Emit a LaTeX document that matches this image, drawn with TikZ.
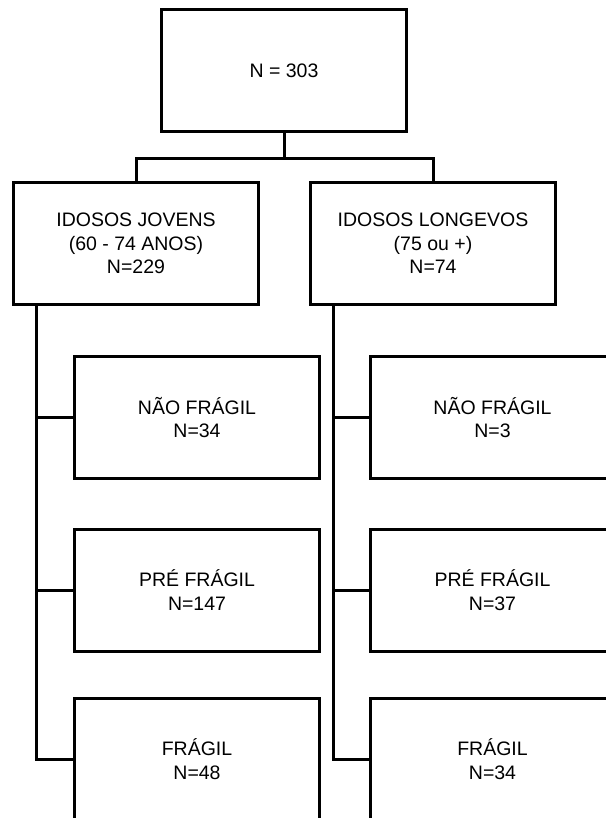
\documentclass[tikz,border=0pt]{standalone}
\usepackage{fontspec}
\setmainfont{Liberation Sans}
\begin{document}
\begin{tikzpicture}[x=1pt,y=-1pt,
  box/.style={draw=black, line width=3pt, rectangle, minimum width=245pt, minimum height=122pt, inner sep=0pt, align=center, font=\fontsize{19.5}{23.5}\selectfont},
  conn/.style={draw=black, line width=3pt}]
\useasboundingbox (0,0) rectangle (605,818);
\node[box] (top) at (284,71) {N = 303};
\node[box] (L) at (136,243.5) {IDOSOS JOVENS\\(60 - 74 ANOS)\\N=229};
\node[box] (R) at (433,243.5) {IDOSOS LONGEVOS\\(75 ou +)\\N=74};
\node[box] (LN) at (197,417.5) {NÃO FRÁGIL\\N=34};
\node[box] (LP) at (197,590) {PRÉ FRÁGIL\\N=147};
\node[box] (LF) at (197,759) {FRÁGIL\\N=48};
\node[box] (RN) at (492.5,417.5) {NÃO FRÁGIL\\N=3};
\node[box] (RP) at (492.5,590) {PRÉ FRÁGIL\\N=37};
\node[box] (RF) at (492.5,759) {FRÁGIL\\N=34};
\coordinate (j) at ([yshift=-25pt]top.south);
\draw[conn] (top.south) -- (j);
\draw[conn] (L.north) |- (j) -| (R.north);
\coordinate (lv) at ([xshift=24pt]L.south west);
\coordinate (rv) at ([xshift=24pt]R.south west);
\draw[conn] (lv) |- (LF.west);
\draw[conn] (LN.west) -- (LN.west -| lv);
\draw[conn] (LP.west) -- (LP.west -| lv);
\draw[conn] (rv) |- (RF.west);
\draw[conn] (RN.west) -- (RN.west -| rv);
\draw[conn] (RP.west) -- (RP.west -| rv);
\end{tikzpicture}
\end{document}
